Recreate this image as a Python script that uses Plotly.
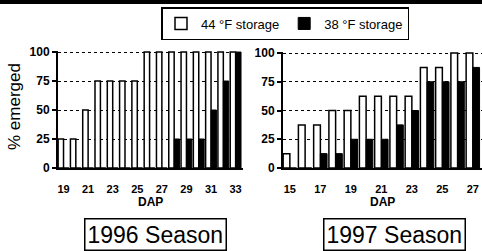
import plotly.graph_objects as go

days_1996 = list(range(19, 34))
warm_1996 = [25, 25, 50, 75, 75, 75, 75, 100, 100, 100, 100, 100, 100, 100, 100]
cold_1996 = [0, 0, 0, 0, 0, 0, 0, 0, 0, 25, 25, 25, 50, 75, 100]

days_1997 = list(range(15, 28))
warm_1997 = [12.5, 37.5, 37.5, 50, 50, 62.5, 62.5, 62.5, 62.5, 87.5, 87.5, 100, 100]
cold_1997 = [0, 0, 12.5, 12.5, 25, 25, 25, 37.5, 50, 75, 75, 75, 87.5]

ticks_1996 = [19, 21, 23, 25, 27, 29, 31, 33]
ticks_1997 = [15, 17, 19, 21, 23, 25, 27]
yticks = [0, 25, 50, 75, 100]

FONT = "Liberation Sans"
W, H = 482, 251
YMAX = 100.9

fig = go.Figure()
fig.add_trace(go.Bar(x=days_1996, y=warm_1996, name="44 °F storage", legendgroup="w",
                     marker=dict(color="white", line=dict(color="black", width=1.5)),
                     xaxis="x", yaxis="y"))
fig.add_trace(go.Bar(x=days_1996, y=cold_1996, name="38 °F storage", legendgroup="c",
                     marker=dict(color="black", line=dict(color="black", width=1)),
                     xaxis="x", yaxis="y"))
fig.add_trace(go.Bar(x=days_1997, y=warm_1997, name="44 °F storage", legendgroup="w", showlegend=False,
                     marker=dict(color="white", line=dict(color="black", width=1.5)),
                     xaxis="x2", yaxis="y2"))
fig.add_trace(go.Bar(x=days_1997, y=cold_1997, name="38 °F storage", legendgroup="c", showlegend=False,
                     marker=dict(color="black", line=dict(color="black", width=1)),
                     xaxis="x2", yaxis="y2"))

def xaxis(dom, rng, tv, anchor):
    return dict(domain=dom, range=rng, tickvals=tv, ticktext=[str(v) for v in tv], anchor=anchor,
                showgrid=False, zeroline=False, showline=True, linecolor="black", linewidth=2,
                ticks="", tickfont=dict(family=FONT, size=11, color="black", weight="bold"),
                ticklabelstandoff=10, fixedrange=True)

def yaxis(dom, anchor):
    return dict(domain=dom, range=[0, YMAX], tickvals=yticks, anchor=anchor,
                showgrid=True, gridcolor="black", gridwidth=1, griddash="dot",
                zeroline=False, showline=True, linecolor="black", linewidth=2,
                ticks="outside", ticklen=4, tickwidth=1.5, tickcolor="black",
                tickfont=dict(family=FONT, size=12, color="black", weight="bold"), fixedrange=True)

fig.update_layout(
    width=W, height=H,
    margin=dict(l=0, r=0, t=0, b=0, autoexpand=False),
    paper_bgcolor="white", plot_bgcolor="white",
    barmode="group", bargap=0.12, bargroupgap=0.0,
    xaxis=xaxis([58 / W, 243 / W], [18.55, 33.6], ticks_1996, "y"),
    yaxis=yaxis([(H - 168) / H, (H - 51) / H], "x"),
    xaxis2=xaxis([283 / W, 1.0], [14.55, 27.6], ticks_1997, "y2"),
    yaxis2=yaxis([(H - 168) / H, (H - 52) / H], "x2"),
    showlegend=True,
    legend=dict(orientation="h", x=285 / W, xanchor="center", y=1 - 7 / H, yanchor="top",
                bordercolor="black", borderwidth=1.5, bgcolor="white",
                font=dict(family=FONT, size=13, color="black"),
                itemwidth=30, tracegroupgap=0),
    font=dict(family=FONT, color="black"),
)

# x-axis titles
for xr in ("x domain", "x2 domain"):
    fig.add_annotation(text="<b>DAP</b>", xref=xr, yref="paper", x=0.5, y=1 - 202 / H,
                       xanchor="center", yanchor="middle",
                       showarrow=False, font=dict(family=FONT, size=12, color="black"))
# y-axis title
fig.add_annotation(text="% emerged", xref="paper", yref="paper", x=14 / W, y=1 - 107 / H,
                   xanchor="center", yanchor="middle",
                   textangle=-90, showarrow=False, font=dict(family=FONT, size=17, color="black"))
# season labels
for txt, cx in (("1996 Season", 155), ("1997 Season", 394)):
    fig.add_annotation(text=txt, xref="paper", yref="paper", x=cx / W, y=1 - 234 / H,
                       xanchor="center", yanchor="middle",
                       showarrow=False, bordercolor="black", borderwidth=1.5, borderpad=2,
                       bgcolor="white", font=dict(family=FONT, size=23, color="black"))
# scan band at top
fig.add_shape(type="rect", xref="paper", yref="paper", x0=0, x1=1, y0=1 - 4 / H, y1=1,
              fillcolor="black", line=dict(width=0), layer="above")

fig.write_html("out.html", config={"displayModeBar": False},
               post_script="document.body.style.margin='0';document.body.style.padding='0';")
